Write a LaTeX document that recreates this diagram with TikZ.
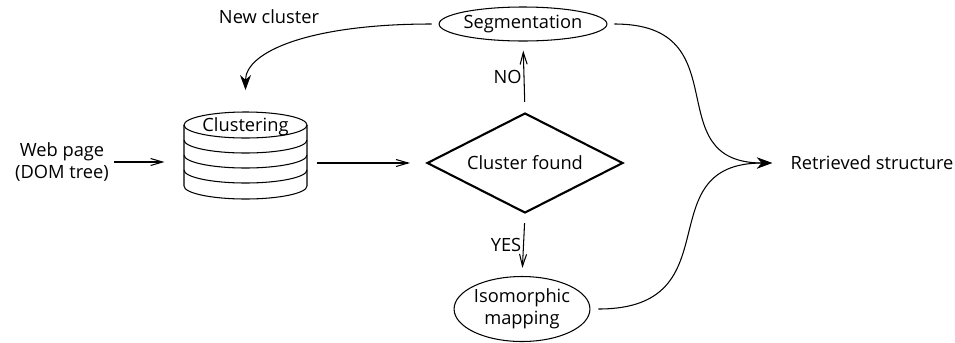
\documentclass[tikz,border=0pt]{standalone}
\usepackage{fontspec}
\setmainfont{Open Sans}
\usetikzlibrary{shapes.geometric, arrows.meta}

\begin{document}
\begin{tikzpicture}[
      x=0.02cm, y=0.02cm,
      font=\fontsize{10.4}{12.5}\selectfont, line width=0.6pt,
      lbl/.style={align=center, inner sep=1pt},
      oval/.style={ellipse, draw, inner sep=0pt, align=center},
      test/.style={diamond, draw, line width=1.2pt, aspect=1.96,
                   minimum width=3.92cm, minimum height=2cm, inner sep=0pt},
      drum/.style={rectangle, minimum width=2.46cm, minimum height=1.72cm, inner sep=0pt},
      a/.style={-{Straight Barb[length=2.4mm, width=1.4mm]}},
      big/.style={-{Stealth[length=3mm, width=2.2mm]}},
    ]
    \useasboundingbox (0,0) rectangle (955,-342);

    \node[lbl]  (web)   at (62,-162)    {Web page\\(DOM tree)};
    \node[drum] (clust) at (245.5,-155.5) {};
    % the stacked drum
    \draw (245.5,-125) ellipse [x radius=1.23cm, y radius=0.26cm];
    \draw (184,-125) -- (184,-186) arc[start angle=180, end angle=360, x radius=1.23cm, y radius=0.26cm] -- (307,-125);
    \foreach \y in {140,155,170}
      \draw (184,-\y) arc[start angle=180, end angle=360, x radius=1.23cm, y radius=0.26cm];
    \node[lbl]  (clustlbl) at (245.5,-127) {Clustering};

    \node[test] (found) at (525,-163)   {Cluster found};
    \node[oval, minimum width=3cm, minimum height=0.68cm]   (seg) at (523,-24)  {Segmentation};
    \node[oval, minimum width=2.58cm, minimum height=1.3cm] (iso) at (522,-309) {Isomorphic\\mapping};
    \node[lbl, anchor=west, inner sep=0pt] (ret)  at (790,-163) {Retrieved structure};
    \node[lbl]  (newc)  at (269,-17)    {New cluster};

    \draw[a, shorten <=0.06cm, shorten >=0.38cm] (web) -- (web -| clust.west);
    \draw[a, shorten <=0.18cm, shorten >=0.32cm] (clust.east |- found) -- (found);
    \draw[a, shorten <=0.2cm, shorten >=0.18cm] (found.north) -- node[lbl, left]{NO} (seg.south);
    \draw[a, shorten <=0.18cm, shorten >=0.16cm] (found.south) -- node[lbl, left]{YES} (iso.north);
    \draw[big, shorten <=0.14cm, shorten >=0.44cm] (seg.west) .. controls +(-130,0) and +(0,60) .. (clust.north);
    \draw[big, shorten <=0.14cm, shorten >=0.36cm] (seg.east) to[out=0, in=180, looseness=1.5] (ret.west);
    \draw[big, shorten <=0.16cm, shorten >=0.36cm] (iso.east) to[out=0, in=180, looseness=1.5] (ret.west);
  \end{tikzpicture}
\end{document}
